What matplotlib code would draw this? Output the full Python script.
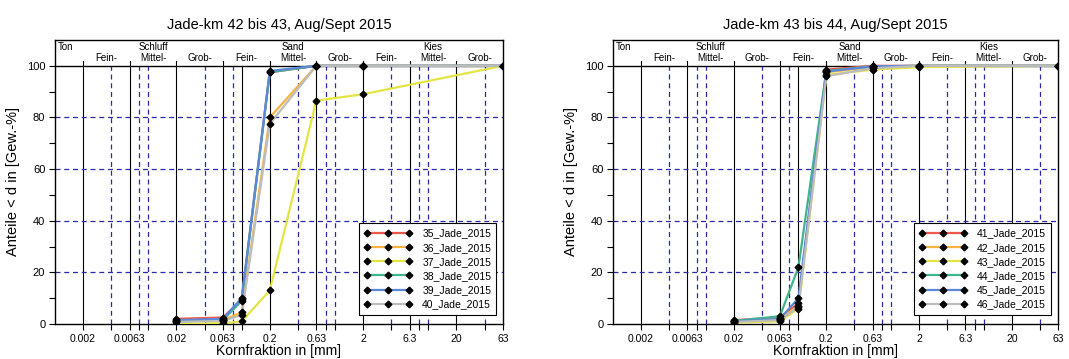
import matplotlib
matplotlib.use("Agg")
import matplotlib.pyplot as plt
from matplotlib.lines import Line2D

plt.rcParams['font.family'] = ['Liberation Sans', 'DejaVu Sans']

# sieve sizes in mm
korn = [0.02, 0.063, 0.1, 0.2, 0.63, 2, 63]

# Jade-km 42 bis 43
namen_links = ["35_Jade_2015", "36_Jade_2015", "37_Jade_2015",
               "38_Jade_2015", "39_Jade_2015", "40_Jade_2015"]
werte_links = [
    [2.0, 2.5, 9.5, 97.5, 100, 100, 100],
    [1.0, 1.5, 4.5, 80.0, 100, 100, 100],
    [0.0, 0.3, 1.0, 13.0, 86.5, 89.0, 100],
    [1.0, 1.5, 9.0, 97.5, 100, 100, 100],
    [1.5, 2.0, 10.0, 98.0, 100, 100, 100],
    [0.8, 1.2, 3.5, 77.5, 100, 100, 100],
]

# Jade-km 43 bis 44
namen_rechts = ["41_Jade_2015", "42_Jade_2015", "43_Jade_2015",
                "44_Jade_2015", "45_Jade_2015", "46_Jade_2015"]
werte_rechts = [
    [1.5, 2.5, 8.0, 98.5, 100, 100, 100],
    [1.0, 2.0, 7.0, 97.5, 99.5, 100, 100],
    [0.5, 1.0, 6.0, 96.5, 98.5, 99.5, 100],
    [1.2, 3.0, 22.0, 98.0, 99.8, 100, 100],
    [1.0, 2.0, 10.0, 97.8, 99.8, 100, 100],
    [0.8, 1.5, 6.5, 96.0, 99.0, 100, 100],
]

farben = ["#f0584a", "#f7b443", "#e4e445", "#3fb58c", "#5b88d8", "#bdbdbd"]

# grain size classification
grenzen = [0.002, 0.0063, 0.02, 0.063, 0.2, 0.63, 2, 6.3, 20]
grenz_labels = ["0.002", "0.0063", "0.02", "0.063", "0.2", "0.63", "2", "6.3", "20", "63"]
hilfslinien = [0.004, 0.008, 0.01, 0.04, 0.08, 0.4, 0.8, 1, 4, 8, 10, 40]
hauptgruppen = [("Schluff", 0.0112), ("Sand", 0.355), ("Kies", 11.2)]
untergruppen = [("Fein-", 0.00355), ("Mittel-", 0.0112), ("Grob-", 0.0355),
                ("Fein-", 0.112), ("Mittel-", 0.355), ("Grob-", 1.12),
                ("Fein-", 3.55), ("Mittel-", 11.2), ("Grob-", 35.5)]

blau = "#2a2aa8"


def kornkurve(ax, titel, namen, werte):
    ax.set_xscale("log")
    ax.set_xlim(0.001, 63)
    ax.set_ylim(0, 110)

    # grid
    for x in grenzen + [0.1]:
        ax.plot([x, x], [0, 100], color="black", lw=0.8, zorder=1)
    for x in hilfslinien:
        ax.plot([x, x], [0, 100], color=blau, lw=0.9, ls=(0, (4, 3)), zorder=1)
    for y in [20, 40, 60, 80]:
        ax.axhline(y, color=blau, lw=0.9, ls=(0, (4, 3)), zorder=1)
    ax.axhline(100, color="black", lw=1.0, zorder=1)

    # header with soil classes
    for x in grenzen:
        ax.plot([x, x], [100, 102], color="black", lw=0.8, clip_on=False)
    ax.text(0.00107, 107.3, "Ton", fontsize=7, ha="left", va="center")
    for name, x in hauptgruppen:
        ax.text(x, 107.3, name, fontsize=7, ha="center", va="center")
    for name, x in untergruppen:
        ax.text(x, 103.2, name, fontsize=7, ha="center", va="center")

    handles = []
    for name, vals, c in zip(namen, werte, farben):
        ax.plot(korn, vals, color=c, lw=1.6, zorder=3)
        ax.plot(korn, vals, ls="none", marker="D", ms=3.4, mfc="black",
                mec="black", zorder=4)
        handles.append(Line2D([0], [0], color=c, lw=1.6, marker="D", ms=3.4,
                              mfc="black", mec="black", label=name))

    leg = ax.legend(handles=handles, loc="lower right", fontsize=7.5,
                    numpoints=3, handlelength=4.6, fancybox=False,
                    framealpha=1, edgecolor="black", borderpad=0.5,
                    labelspacing=0.4, handletextpad=1.0,
                    bbox_to_anchor=(0.997, 0.015))
    leg.get_frame().set_linewidth(0.8)
    leg.set_zorder(5)

    ax.set_xticks(grenzen + [63])
    ax.set_xticklabels(grenz_labels, fontsize=7)
    ax.set_xticks(hilfslinien + [0.1], minor=True)
    ax.xaxis.set_minor_formatter(plt.NullFormatter())
    ax.set_yticks([0, 20, 40, 60, 80, 100])
    ax.set_yticks([10, 30, 50, 70, 90], minor=True)
    ax.tick_params(axis="both", which="both", direction="out", length=4,
                   width=0.8, labelsize=8, pad=3)
    ax.tick_params(axis="x", labelsize=7.5)
    for s in ax.spines.values():
        s.set_linewidth(1.0)

    ax.set_title(titel, fontsize=10.5, pad=8)
    ax.set_xlabel("Kornfraktion in [mm]", fontsize=10, labelpad=0)
    ax.set_ylabel("Anteile < d in [Gew.-%]", fontsize=10.5, labelpad=5)


fig = plt.figure(figsize=(10.69, 3.59), dpi=100)
ax1 = fig.add_axes([55 / 1069, 35 / 359, 448 / 1069, 284 / 359])
ax2 = fig.add_axes([613 / 1069, 35 / 359, 445 / 1069, 284 / 359])

kornkurve(ax1, "Jade-km 42 bis 43, Aug/Sept 2015", namen_links, werte_links)
kornkurve(ax2, "Jade-km 43 bis 44, Aug/Sept 2015", namen_rechts, werte_rechts)

fig.savefig("out.png", dpi=100)
